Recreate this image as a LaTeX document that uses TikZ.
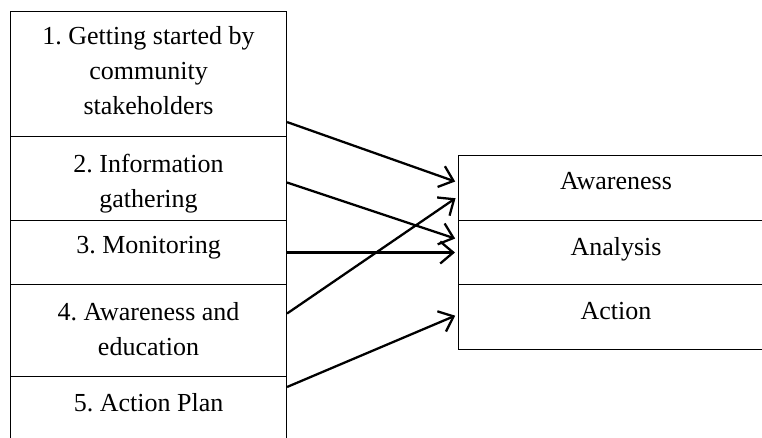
\documentclass[tikz,border=0pt]{standalone}
\usepackage{fontspec}
\setmainfont{Liberation Serif}
\usepackage{tikz}
\usetikzlibrary{arrows.meta}
\usetikzlibrary{positioning}
\frenchspacing

\begin{document}
\begin{tikzpicture}
	\clip (0,0) rectangle (15.24,-8.76);
	\begin{scope}[every node/.style={rectangle, draw, line width=0.6pt, anchor=north west, inner sep=0pt}]
		\node[minimum width=5.52cm, minimum height=2.5cm] (c1) at (0.2,-0.22) {};
		\node[minimum width=5.52cm, minimum height=1.68cm] (c2) at (0.2,-2.72) {};
		\node[minimum width=5.52cm, minimum height=1.28cm] (c3) at (0.2,-4.4) {};
		\node[minimum width=5.52cm, minimum height=1.84cm] (c4) at (0.2,-5.68) {};
		\node[minimum width=5.52cm, minimum height=1.6cm] (c5) at (0.2,-7.52) {};
		\node[minimum width=6.3cm, minimum height=1.3cm] (r1) at (9.16,-3.1) {};
		\node[minimum width=6.3cm, minimum height=1.28cm] (r2) at (9.16,-4.4) {};
		\node[minimum width=6.3cm, minimum height=1.3cm] (r3) at (9.16,-5.68) {};
	\end{scope}

	\begin{scope}[every node/.style={anchor=north, inner sep=0pt, align=center,
	              font=\fontsize{14.8}{19.9}\selectfont}]
		\node (t1) at ([yshift=-0.3cm]c1.north) {1. Getting started by\\community\\stakeholders};
		\node (t2) at ([yshift=-0.36cm]c2.north) {2. Information\\gathering};
		\node (t3) at ([yshift=-0.32cm]c3.north) {3. Monitoring};
		\node (t4) at ([yshift=-0.36cm]c4.north) {4. Awareness and\\education};
		\node (t5) at ([yshift=-0.34cm]c5.north) {5. Action Plan};
		\node (s1) at ([yshift=-0.34cm]r1.north) {Awareness};
		\node (s2) at ([yshift=-0.34cm]r2.north) {Analysis};
		\node (s3) at ([yshift=-0.36cm]r3.north) {Action};
	\end{scope}

	\begin{scope}[>={Straight Barb[length=2.6mm, width=4.4mm]},
	              every edge/.style={draw=black, line width=1.3pt, ->, shorten >=0.06cm}]
		\path ([yshift=0.3cm]c1.south east) edge ([yshift=0.11cm]r1.west);
		\path ([yshift=-0.08cm]c2.east) edge ([yshift=0.26cm]r2.west);
		\path (c3.east) edge (r2.west);
		\path ([yshift=0.34cm]c4.east) edge ([yshift=-0.17cm]r1.west);
		\path ([yshift=-0.22cm]c5.north east) edge ([yshift=0.05cm]r3.west);
	\end{scope}
\end{tikzpicture}
\end{document}
